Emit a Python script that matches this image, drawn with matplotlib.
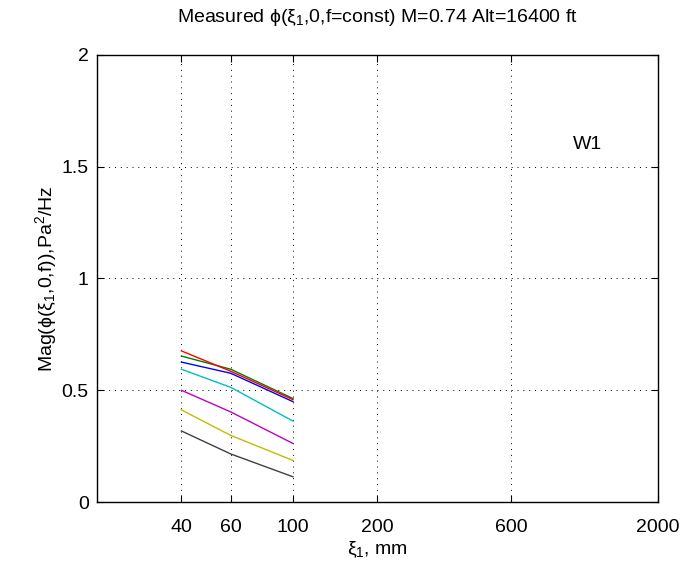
import matplotlib
matplotlib.use('Agg')
import matplotlib.pyplot as plt

plt.rcParams['font.family'] = ['Liberation Sans', 'DejaVu Sans']
plt.rcParams['mathtext.fontset'] = 'custom'
plt.rcParams['mathtext.rm'] = 'Liberation Sans'
plt.rcParams['mathtext.it'] = 'Liberation Sans'
plt.rcParams['mathtext.sf'] = 'Liberation Sans'

# separation in mm
xi = [40, 60, 100]

# one curve per frequency, MATLAB colour order b g r c m y k
blue = [0.626, 0.576, 0.449]
green = [0.653, 0.594, 0.463]
red = [0.676, 0.585, 0.458]
cyan = [0.594, 0.513, 0.362]
magenta = [0.500, 0.403, 0.262]
yellow = [0.412, 0.298, 0.186]
black = [0.318, 0.215, 0.113]

xTicks = [40, 60, 100, 200, 600, 2000]
yTicks = [0, 0.5, 1, 1.5, 2]

curves = [blue, green, red, cyan, magenta, yellow, black]
colors = [(0, 0, 1), (0, 0.5, 0), (1, 0, 0), (0, 0.75, 0.75),
          (0.75, 0, 0.75), (0.75, 0.75, 0), (0.25, 0.25, 0.25)]

fig = plt.figure(figsize=(6.88, 5.66), dpi=100)
ax = fig.add_axes([0.141, 0.113, 0.815, 0.790])

for vals, c in zip(curves, colors):
    ax.plot(xi, vals, color=c, linewidth=1.0)

ax.set_xscale('log')
ax.set_xlim(20, 2000)
ax.set_ylim(0, 2)
ax.set_xticks(xTicks)
ax.set_xticklabels([str(t) for t in xTicks])
ax.xaxis.set_minor_locator(matplotlib.ticker.NullLocator())
ax.set_yticks(yTicks)
ax.set_yticklabels(['0', '0.5', '1', '1.5', '2'])

ax.grid(True, linestyle=(0, (1, 5)), color='black', linewidth=0.7)
ax.tick_params(direction='in', top=True, right=True, length=5,
               labelsize=14, width=0.8)
ax.tick_params(axis='x', pad=12)
ax.tick_params(axis='y', pad=6)
for s in ax.spines.values():
    s.set_linewidth(1.0)

ax.text(1000, 1.6, 'W1', fontsize=14, ha='left', va='center')

ax.set_title(r'Measured $\phi(\xi_1$,0,f=const) M=0.74 Alt=16400 ft',
             fontsize=14, pad=24)
ax.set_xlabel(r'$\xi_1$, mm', fontsize=14, labelpad=3)
ax.set_ylabel(r'Mag($\phi(\xi_1$,0,f)),Pa$^2$/Hz', fontsize=14, labelpad=2)

fig.savefig('out.png', dpi=100)
